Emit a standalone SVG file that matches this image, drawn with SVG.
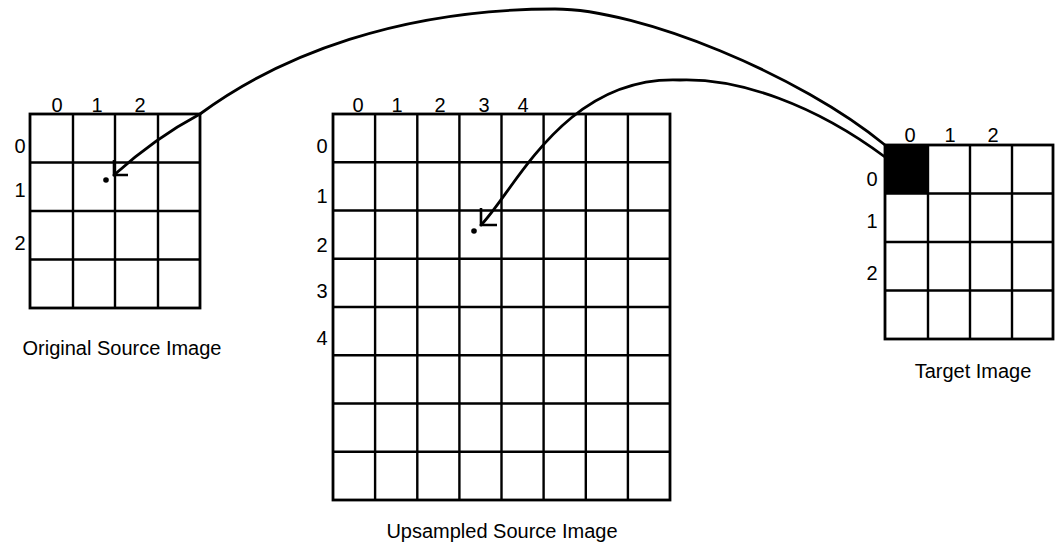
<svg xmlns="http://www.w3.org/2000/svg" width="1055" height="545" viewBox="0 0 1055 545">
<style>
.frame{fill:none;stroke:#000;stroke-width:2.8}
.grid{fill:none;stroke:#000;stroke-width:2.4}
.num{font-family:"Liberation Sans",Arial,sans-serif;font-size:20px;fill:#000;text-anchor:middle}
.cap{font-family:"Liberation Sans",Arial,sans-serif;font-size:20px;fill:#000;text-anchor:middle}
.conn{fill:none;stroke:#000;stroke-width:2.8;stroke-linecap:round;stroke-linejoin:miter}
.head{fill:none;stroke:#000;stroke-width:2.6;stroke-linecap:butt;stroke-linejoin:miter}
.dot{fill:#000}
</style>
<rect width="1055" height="545" fill="#fff"/>

<g id="original-source-image">
  <path class="grid" d="M73,114V308M115,114V308M158,114V308M30,162.5H200M30,211H200M30,259.5H200"/>
  <rect class="frame" x="30" y="114" width="170" height="194"/>
  <text class="num" x="57" y="112">0</text>
  <text class="num" x="97" y="112">1</text>
  <text class="num" x="140" y="112">2</text>
  <text class="num" x="20" y="153">0</text>
  <text class="num" x="20" y="197">1</text>
  <text class="num" x="20" y="250">2</text>
  <text class="cap" x="122" y="355">Original Source Image</text>
</g>

<g id="upsampled-source-image">
  <path class="grid" d="M375.1,114V500M417.3,114V500M459.4,114V500M501.5,114V500M543.6,114V500M585.8,114V500M627.9,114V500M333,162.25H670M333,210.5H670M333,258.75H670M333,307H670M333,355.25H670M333,403.5H670M333,451.75H670"/>
  <rect class="frame" x="333" y="114" width="337" height="386"/>
  <text class="num" x="358" y="112">0</text>
  <text class="num" x="397" y="112">1</text>
  <text class="num" x="440" y="112">2</text>
  <text class="num" x="484" y="112">3</text>
  <text class="num" x="523" y="112">4</text>
  <text class="num" x="322" y="153">0</text>
  <text class="num" x="322" y="203">1</text>
  <text class="num" x="322" y="252">2</text>
  <text class="num" x="322" y="298">3</text>
  <text class="num" x="322" y="345">4</text>
  <text class="cap" x="502" y="538">Upsampled Source Image</text>
</g>

<g id="target-image">
  <rect x="885" y="145" width="43" height="49" fill="#000"/>
  <path class="grid" d="M928,145V339M970,145V339M1012,145V339M885,193.5H1053M885,242H1053M885,290.5H1053"/>
  <rect class="frame" x="885" y="145" width="168" height="194"/>
  <text class="num" x="910" y="142">0</text>
  <text class="num" x="950" y="142">1</text>
  <text class="num" x="993" y="142">2</text>
  <text class="num" x="872" y="186">0</text>
  <text class="num" x="872" y="228">1</text>
  <text class="num" x="872" y="280">2</text>
  <text class="cap" x="973" y="378">Target Image</text>
</g>

<g id="connectors">
  <path class="conn" d="M885,145 C800,75 640,9 555,9 C400,9 280,55 200,114 Q155,138 114,175"/>
  <path class="head" d="M114,160V175H128"/>
  <circle class="dot" cx="106" cy="180" r="2.8"/>
  <path class="conn" d="M885,157 C815,105 740,78 680,80 C565,75 515,190 481,225"/>
  <path class="head" d="M481,208V225H497"/>
  <circle class="dot" cx="474" cy="231" r="2.8"/>
</g>
</svg>
